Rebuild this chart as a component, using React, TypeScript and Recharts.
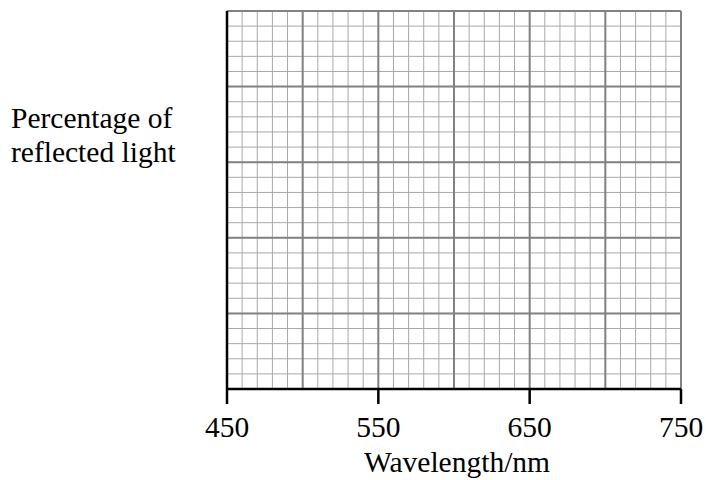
import { ComposedChart, XAxis, YAxis, ReferenceLine } from "recharts";

// x axis: wavelength in nm
const xTicks = [450, 550, 650, 750];
const xMajor = [500, 550, 600, 650, 700, 750];
// y axis: grid units only, no values printed
const yMajor = [5, 10, 15, 20, 25];

// minor grid every 10 nm / 1 unit (the lines on the axes are left to the axes)
const xMinor: number[] = [];
for (let v = 460; v <= 750; v += 10) xMinor.push(v);
const yMinor: number[] = [];
for (let v = 1; v <= 25; v += 1) yMinor.push(v);

const FONT = "'Liberation Serif', 'Times New Roman', serif";
const MINOR = "#a8a8a8";
const MAJOR = "#828282";

export default function App() {
  return (
    <div style={{ position: "absolute", left: 0, top: 0, width: 706, height: 480, background: "#fff" }}>
      <ComposedChart width={706} height={480} margin={{ top: 11, right: 25, left: 227, bottom: 31 }}>
        {xMinor.map((v) => (
          <ReferenceLine key={"xm" + v} x={v} stroke={MINOR} strokeWidth={1} />
        ))}
        {yMinor.map((v) => (
          <ReferenceLine key={"ym" + v} y={v} stroke={MINOR} strokeWidth={1} />
        ))}
        {xMajor.map((v) => (
          <ReferenceLine key={"xM" + v} x={v} stroke={MAJOR} strokeWidth={2} />
        ))}
        {yMajor.map((v) => (
          <ReferenceLine key={"yM" + v} y={v} stroke={MAJOR} strokeWidth={2} />
        ))}
        {/* vertical axis line */}
        <ReferenceLine x={450} stroke="#000" strokeWidth={2.5} />
        <XAxis
          type="number"
          dataKey="x"
          domain={[450, 750]}
          ticks={xTicks}
          height={60}
          allowDataOverflow
          tickSize={15}
          tickMargin={12}
          axisLine={{ stroke: "#000", strokeWidth: 2.5 }}
          tickLine={{ stroke: "#000", strokeWidth: 2.5 }}
          tick={{ fill: "#000", fontSize: 29.5, fontFamily: FONT }}
        />
        <YAxis type="number" domain={[0, 25]} allowDataOverflow hide />
      </ComposedChart>
      <div
        style={{
          position: "absolute",
          left: 11,
          top: 101,
          fontFamily: FONT,
          fontSize: 29.5,
          lineHeight: "34px",
          color: "#000",
          whiteSpace: "nowrap",
        }}
      >
        Percentage of
        <br />
        reflected light
      </div>
      <div
        style={{
          position: "absolute",
          left: 457,
          top: 446,
          transform: "translateX(-50%)",
          fontFamily: FONT,
          fontSize: 29.5,
          lineHeight: "32px",
          color: "#000",
          whiteSpace: "nowrap",
        }}
      >
        Wavelength/nm
      </div>
    </div>
  );
}
